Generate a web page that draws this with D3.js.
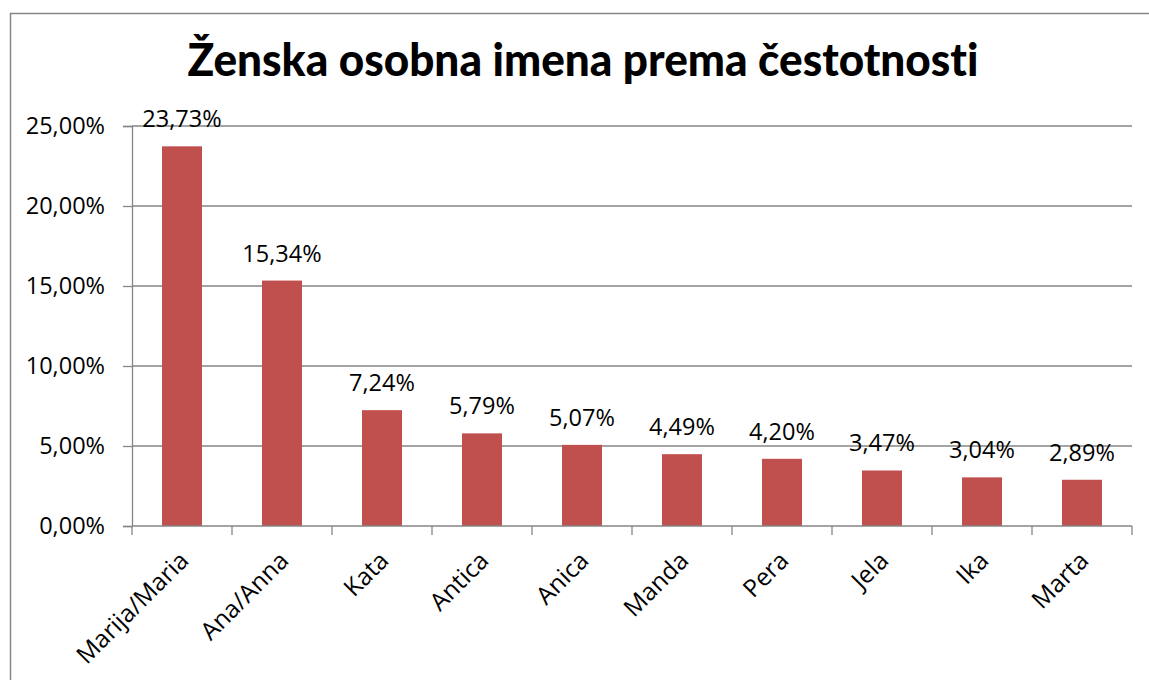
<!DOCTYPE html>
<html>
<head>
<meta charset="utf-8">
<script src="https://cdn.jsdelivr.net/npm/d3@7"></script>
<style>
  body { margin: 0; background: #fff; }
  svg { display: block; }
  text { font-family: "Open Sans", sans-serif; fill: #000; font-variant-ligatures: none; }
</style>
</head>
<body>
<svg width="1149" height="680"></svg>
<script>
// data
const names = ["Marija/Maria", "Ana/Anna", "Kata", "Antica", "Anica", "Manda", "Pera", "Jela", "Ika", "Marta"];
const shares = [23.73, 15.34, 7.24, 5.79, 5.07, 4.49, 4.20, 3.47, 3.04, 2.89];
const yTicks = [0, 5, 10, 15, 20, 25];
const title = "Ženska osobna imena prema čestotnosti";

const svg = d3.select("svg");
const grey = "#868686";

// chart frame (runs off the right/bottom edge in the original)
svg.append("rect")
  .attr("x", 10.5).attr("y", 13.5)
  .attr("width", 1200).attr("height", 700)
  .attr("fill", "none").attr("stroke", grey).attr("stroke-width", 1.5);

const x = d3.scaleBand().domain(names).range([132, 1132]).paddingInner(0.6).paddingOuter(0.3);
const y = d3.scaleLinear().domain([0, 25]).range([526, 126]);

const fmt = v => d3.format(".2f")(v).replace(".", ",") + "%";

// gridlines
svg.append("g").selectAll("line")
  .data(yTicks.filter(d => d > 0))
  .enter().append("line")
  .attr("x1", 132).attr("x2", 1132)
  .attr("y1", d => y(d)).attr("y2", d => y(d))
  .attr("stroke", grey).attr("stroke-width", 1.3);

// y axis
const yAxis = svg.append("g")
  .attr("transform", "translate(132,0)")
  .call(d3.axisLeft(y).tickValues(yTicks).tickSize(9).tickFormat(fmt));
yAxis.select(".domain").attr("stroke", grey).attr("stroke-width", 1.3);
yAxis.selectAll(".tick line").attr("stroke", grey).attr("stroke-width", 1.3);
yAxis.selectAll(".tick text")
  .attr("x", -27).attr("dy", "0.32em")
  .style("font-size", "23.5px").style("font-family", "Open Sans");

// bars
svg.append("g").selectAll("rect")
  .data(shares)
  .enter().append("rect")
  .attr("x", (d, i) => x(names[i]))
  .attr("y", d => y(d))
  .attr("width", x.bandwidth())
  .attr("height", d => y(0) - y(d))
  .attr("fill", "#C0504D");

// value labels
svg.append("g").selectAll("text")
  .data(shares)
  .enter().append("text")
  .attr("x", (d, i) => x(names[i]) + x.bandwidth() / 2)
  .attr("y", d => y(d) - 19)
  .attr("text-anchor", "middle")
  .style("font-size", "23.5px")
  .text(fmt);

// x axis: ticks at category boundaries
const step = x.step();
const bounds = d3.range(names.length + 1).map(i => 132 + i * step);
svg.append("line")
  .attr("x1", 132).attr("x2", 1132).attr("y1", 526).attr("y2", 526)
  .attr("stroke", grey).attr("stroke-width", 1.3);
svg.append("g").selectAll("line")
  .data(bounds)
  .enter().append("line")
  .attr("x1", d => d).attr("x2", d => d)
  .attr("y1", 526).attr("y2", 535)
  .attr("stroke", grey).attr("stroke-width", 1.3);

svg.append("g").selectAll("text")
  .data(names)
  .enter().append("text")
  .attr("transform", d => "translate(" + (x(d) + x.bandwidth() / 2 + 2) + ",556) rotate(-45)")
  .attr("text-anchor", "end")
  .attr("dy", "0.35em")
  .style("font-size", "24.5px")
  .text(d => d);

// title, squeezed to the original width
svg.append("text")
  .attr("x", 583).attr("y", 76)
  .attr("text-anchor", "middle")
  .attr("textLength", 791)
  .attr("lengthAdjust", "spacingAndGlyphs")
  .style("font-family", "Lato, 'Open Sans', sans-serif")
  .style("font-weight", "900")
  .style("font-size", "46px")
  .text(title);
</script>
</body>
</html>
